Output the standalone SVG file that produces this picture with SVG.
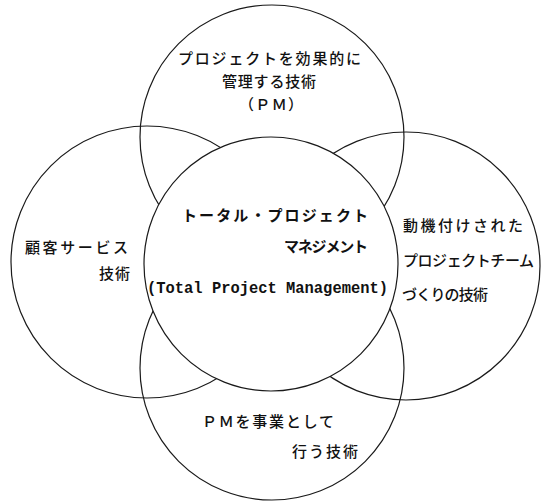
<svg xmlns="http://www.w3.org/2000/svg" width="544" height="504" viewBox="0 0 544 504">
<style>
.c{fill:none;stroke:#1a1a1a;stroke-width:1.2}
.cc{fill:#fff;stroke:#1a1a1a;stroke-width:1.2}
.t{font-family:"Noto Sans CJK JP","Noto Sans CJK SC",sans-serif;font-size:15px;font-weight:500;fill:#111}
.b{font-weight:bold}
.m{font-family:"Liberation Mono","DejaVu Sans Mono",monospace;font-size:17px;font-weight:bold;fill:#111}
</style>
<rect width="544" height="504" fill="#fff"/>
<g id="node-pm">
<circle class="c" cx="272" cy="137" r="132"/>
<text class="t" x="178" y="64" textLength="183">プロジェクトを効果的に</text>
<text class="t" x="222" y="87" textLength="94">管理する技術</text>
<text class="t" x="239" y="110" textLength="64">（ＰＭ）</text>
</g>
<g id="node-customer">
<circle class="c" cx="147" cy="262" r="136"/>
<text class="t" x="25" y="253" textLength="103">顧客サービス</text>
<text class="t" x="99" y="279" textLength="31">技術</text>
</g>
<g id="node-team">
<circle class="c" cx="406" cy="266" r="134"/>
<text class="t" x="403" y="231" textLength="120">動機付けされた</text>
<text class="t" x="403" y="266" textLength="131">プロジェクトチーム</text>
<text class="t" x="402" y="300" textLength="86">づくりの技術</text>
</g>
<g id="node-business">
<circle class="c" cx="272" cy="368" r="132"/>
<text class="t" x="202" y="427" textLength="132">ＰＭを事業として</text>
<text class="t" x="292" y="457" textLength="66">行う技術</text>
</g>
<g id="node-tpm">
<circle class="cc" cx="271" cy="264" r="127"/>
<text class="t b" x="182" y="221" textLength="186">トータル・プロジェクト</text>
<text class="t b" x="284" y="252" textLength="84">マネジメント</text>
<text class="m" x="147" y="293" textLength="241" lengthAdjust="spacingAndGlyphs">(Total Project Management)</text>
</g>
</svg>
